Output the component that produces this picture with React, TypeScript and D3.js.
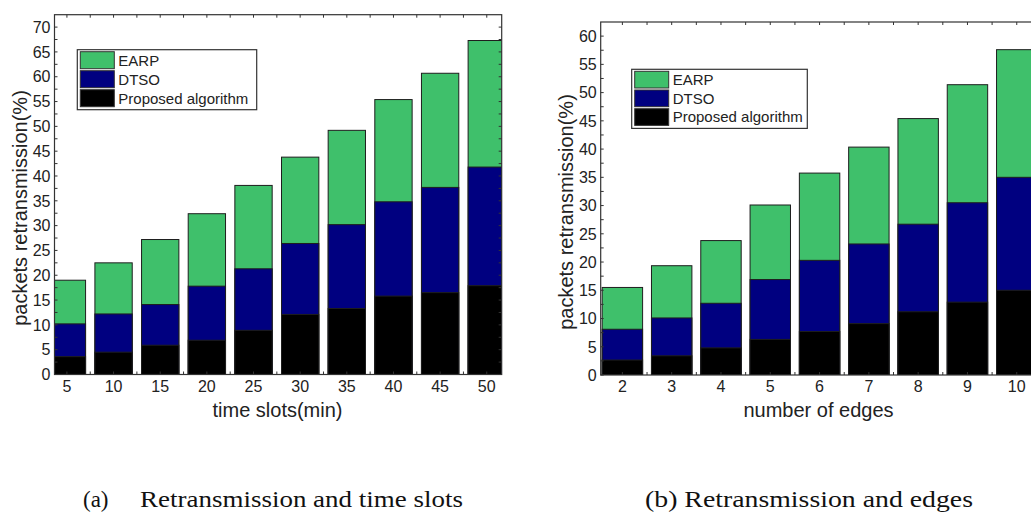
import * as d3 from "d3";
import React from "react";

// panel (a): retransmission vs time slots
const slotsA = [5, 10, 15, 20, 25, 30, 35, 40, 45, 50];
const earpA = [19.0, 22.5, 27.2, 32.4, 38.1, 43.8, 49.2, 55.4, 60.7, 67.3];
const dtsoA = [10.2, 12.2, 14.1, 17.8, 21.3, 26.4, 30.2, 34.8, 37.7, 41.8];
const propA = [3.6, 4.5, 5.9, 6.9, 8.9, 12.1, 13.3, 15.8, 16.5, 17.9];
const yTicksA = [0, 5, 10, 15, 20, 25, 30, 35, 40, 45, 50, 55, 60, 65, 70];

// panel (b): retransmission vs number of edges
const edgesB = [2, 3, 4, 5, 6, 7, 8, 9, 10];
const earpB = [15.5, 19.35, 23.8, 30.1, 35.75, 40.35, 45.4, 51.4, 57.6];
const dtsoB = [8.1, 10.1, 12.7, 16.9, 20.3, 23.2, 26.7, 30.5, 35.0];
const propB = [2.65, 3.4, 4.8, 6.3, 7.7, 9.1, 11.2, 12.9, 15.0];
const yTicksB = [0, 5, 10, 15, 20, 25, 30, 35, 40, 45, 50, 55, 60];

const seriesNames = ["EARP", "DTSO", "Proposed algorithm"];
const seriesColors = ["#3fc06b", "#000080", "#000000"];

const SANS = "'Liberation Sans', Arial, sans-serif";
const SERIF = "'Liberation Serif', 'Times New Roman', serif";

type PanelProps = {
  id: string;
  frame: { l: number; t: number; r: number; b: number };
  xDomain: [number, number];
  yDomain: [number, number];
  cats: number[];
  series: number[][];
  half: number;
  minorX: number;
  yTicks: number[];
  xTitle: string;
  xTitleX: number;
  yTitleX: number;
  yTitleY: number;
  legend: { x: number; y: number; w: number; row: number };
};

const Panel = (p: PanelProps) => {
  const { l, t, r, b } = p.frame;
  const x = d3.scaleLinear().domain(p.xDomain).range([l, r]);
  const y = d3.scaleLinear().domain(p.yDomain).range([b, t]);

  // minor ticks halfway between majors
  const xMinor = d3.range(p.cats[0] - p.minorX, p.cats[p.cats.length - 1] + p.minorX * 1.01, p.minorX)
    .filter((v) => x(v) > l + 1 && x(v) < r - 1);
  const yMinor = d3.range(0, p.yDomain[1], 2.5).filter((v) => y(v) > t + 1);

  const lg = p.legend;

  return (
    <g>
      <defs>
        <clipPath id={`clip-${p.id}`}>
          <rect x={l} y={t} width={r - l} height={b - t} />
        </clipPath>
      </defs>

      {/* bars, drawn tallest first so each lower series sits on top */}
      <g clipPath={`url(#clip-${p.id})`}>
        {p.cats.map((c, i) =>
          p.series.map((s, k) => (
            <rect
              key={`${c}-${k}`}
              x={x(c - p.half)}
              width={x(c + p.half) - x(c - p.half)}
              y={y(s[i])}
              height={y(0) - y(s[i])}
              fill={seriesColors[k]}
              stroke="#1e1e1e"
              strokeWidth={1}
            />
          ))
        )}
      </g>

      {/* frame */}
      <rect x={l} y={t} width={r - l} height={b - t} fill="none" stroke="#333" strokeWidth={1.2} />

      {/* ticks on all four sides, pointing inward */}
      {xMinor.map((v) => (
        <g key={`xt${v}`} stroke="#333" strokeWidth={1}>
          <line x1={x(v)} x2={x(v)} y1={t} y2={t + 3} />
          <line x1={x(v)} x2={x(v)} y1={b} y2={b - 3} />
        </g>
      ))}
      {yMinor.map((v) => (
        <g key={`yt${v}`} stroke="#333" strokeWidth={1}>
          <line x1={l} x2={l + 3} y1={y(v)} y2={y(v)} />
          <line x1={r} x2={r - 3} y1={y(v)} y2={y(v)} />
        </g>
      ))}

      {/* tick labels */}
      <g fontFamily={SANS} fontSize={16} fill="#222">
        {p.yTicks.map((v) => (
          <text key={`yl${v}`} x={l - 4} y={y(v)} dy="0.36em" textAnchor="end">
            {v}
          </text>
        ))}
        {p.cats.map((c) => (
          <text key={`xl${c}`} x={x(c)} y={392} textAnchor="middle">
            {c}
          </text>
        ))}
      </g>

      {/* axis titles */}
      <text x={p.xTitleX} y={417} textAnchor="middle" fontFamily={SANS} fontSize={20} fill="#222">
        {p.xTitle}
      </text>
      <text
        transform={`translate(${p.yTitleX},${p.yTitleY}) rotate(-90)`}
        textAnchor="middle"
        fontFamily={SANS}
        fontSize={20}
        fill="#222"
      >
        packets retransmission(%)
      </text>

      {/* legend */}
      <rect x={lg.x} y={lg.y} width={lg.w} height={lg.row * 3 + 3} fill="#fff" stroke="#333" strokeWidth={1.2} />
      {seriesNames.map((name, k) => (
        <g key={name}>
          <rect
            x={lg.x + 3}
            y={lg.y + 2 + k * lg.row}
            width={34}
            height={lg.row - 2}
            fill={seriesColors[k]}
            stroke="#333"
            strokeWidth={1}
          />
          <text
            x={lg.x + 41}
            y={lg.y + 1 + k * lg.row + lg.row / 2}
            dy="0.36em"
            fontFamily={SANS}
            fontSize={15}
            fill="#222"
          >
            {name}
          </text>
        </g>
      ))}
    </g>
  );
};

export default function App() {
  return (
    <svg
      width={1031}
      height={514}
      style={{ position: "absolute", left: 0, top: 0, background: "#fff" }}
    >
      <Panel
        id="a"
        frame={{ l: 54.5, t: 14.7, r: 501.7, b: 374.5 }}
        xDomain={[3.67, 51.6]}
        yDomain={[0, 72.5]}
        cats={slotsA}
        series={[earpA, dtsoA, propA]}
        half={2}
        minorX={2.5}
        yTicks={yTicksA}
        xTitle="time slots(min)"
        xTitleX={277.5}
        yTitleX={27}
        yTitleY={208}
        legend={{ x: 77.3, y: 49.7, w: 179.4, row: 19 }}
      />
      <Panel
        id="b"
        frame={{ l: 600.7, t: 22, r: 1041.4, b: 375 }}
        xDomain={[1.56, 10.5]}
        yDomain={[0, 62.5]}
        cats={edgesB}
        series={[earpB, dtsoB, propB]}
        half={0.41}
        minorX={0.5}
        yTicks={yTicksB}
        xTitle="number of edges"
        xTitleX={818.5}
        yTitleX={573}
        yTitleY={212}
        legend={{ x: 631.7, y: 69.3, w: 175.6, row: 18.7 }}
      />

      {/* sub-figure captions */}
      <g fontFamily={SERIF} fontSize={23} fill="#111">
        <text x={83} y={507}>(a)</text>
        <text x={140} y={507} textLength={323} lengthAdjust="spacingAndGlyphs">
          Retransmission and time slots
        </text>
        <text x={645} y={507} textLength={328} lengthAdjust="spacingAndGlyphs">
          (b) Retransmission and edges
        </text>
      </g>
    </svg>
  );
}
